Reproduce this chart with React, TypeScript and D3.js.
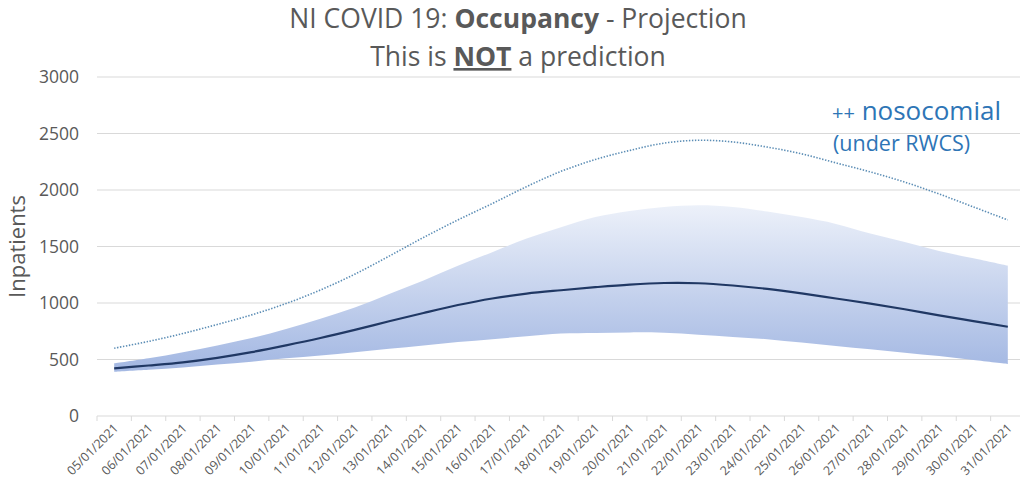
import React from "react";
import * as d3 from "d3";

const dates = [
  "05/01/2021", "06/01/2021", "07/01/2021", "08/01/2021", "09/01/2021",
  "10/01/2021", "11/01/2021", "12/01/2021", "13/01/2021", "14/01/2021",
  "15/01/2021", "16/01/2021", "17/01/2021", "18/01/2021", "19/01/2021",
  "20/01/2021", "21/01/2021", "22/01/2021", "23/01/2021", "24/01/2021",
  "25/01/2021", "26/01/2021", "27/01/2021", "28/01/2021", "29/01/2021",
  "30/01/2021", "31/01/2021",
];

// central projection
const median = [
  422, 447, 475, 515, 565, 625, 690, 762, 838, 912, 982, 1040, 1083, 1113,
  1140, 1163, 1177, 1175, 1155, 1125, 1085, 1040, 995, 945, 890, 840, 790,
];
// upper / lower edge of the shaded range
const upper = [
  465, 510, 565, 625, 690, 770, 860, 960, 1080, 1200, 1330, 1450, 1570, 1670,
  1760, 1815, 1850, 1865, 1850, 1810, 1760, 1700, 1615, 1540, 1460, 1395, 1330,
];
const lower = [
  392, 410, 430, 455, 480, 510, 535, 565, 595, 625, 655, 680, 705, 730, 735,
  740, 737, 720, 700, 680, 650, 620, 590, 560, 530, 495, 460,
];
// ++ nosocomial (under RWCS)
const nosocomial = [
  600, 660, 730, 810, 895, 995, 1115, 1255, 1415, 1580, 1735, 1880, 2030,
  2165, 2270, 2350, 2415, 2440, 2425, 2380, 2320, 2240, 2160, 2070, 1965,
  1850, 1735,
];
const yTicks = [0, 500, 1000, 1500, 2000, 2500, 3000];

const W = 1020;
const H = 483;
const m = { left: 97, right: -5, top: 77, bottom: 67 };
const grey = "#595959";
const font = "'Open Sans', 'Noto Sans', sans-serif";

const App = () => {
  const x = d3
    .scaleBand()
    .domain(dates)
    .range([m.left, W - m.right]);
  const y = d3
    .scaleLinear()
    .domain([0, 3000])
    .range([H - m.bottom, m.top]);
  const cx = (i) => x(dates[i]) + x.bandwidth() / 2;

  const line = d3
    .line()
    .x((d, i) => cx(i))
    .y((d) => y(d))
    .curve(d3.curveCatmullRom.alpha(0.5));

  const area = d3
    .area()
    .x((d, i) => cx(i))
    .y0((d, i) => y(lower[i]))
    .y1((d) => y(d))
    .curve(d3.curveCatmullRom.alpha(0.5));

  const boundaries = dates.map((d) => x(d)).concat([x.range()[1]]);

  return (
    <svg
      width={W}
      height={H}
      style={{ position: "absolute", left: 0, top: 0, background: "#fff" }}
      fontFamily={font}
    >
      <defs>
        <linearGradient
          id="band"
          gradientUnits="userSpaceOnUse"
          x1="0"
          x2="0"
          y1={y(1900)}
          y2={y(450)}
        >
          <stop offset="0" stopColor="#eef2fa" />
          <stop offset="1" stopColor="#a5b9e3" />
        </linearGradient>
      </defs>

      {/* title */}
      <text x={518} y={28} textAnchor="middle" fontSize={26.5} fill={grey}>
        NI COVID 19: <tspan fontWeight="bold">Occupancy</tspan> - Projection
      </text>
      <text x={518} y={66} textAnchor="middle" fontSize={26.5} fill={grey}>
        This is{" "}
        <tspan fontWeight="bold" textDecoration="underline">
          NOT
        </tspan>{" "}
        a prediction
      </text>

      {/* grid */}
      {yTicks.map((t) => (
        <g key={t}>
          <line
            x1={m.left}
            x2={W}
            y1={y(t)}
            y2={y(t)}
            stroke="#d9d9d9"
            strokeWidth={1}
          />
          <text
            x={79}
            y={y(t)}
            dy="0.35em"
            textAnchor="end"
            fontSize={17.5}
            fill={grey}
          >
            {t}
          </text>
        </g>
      ))}
      <text
        transform={`translate(25 ${y(1500)}) rotate(-90)`}
        textAnchor="middle"
        fontSize={22}
        fill={grey}
      >
        Inpatients
      </text>

      {/* x axis */}
      {boundaries.map((b, i) => (
        <line
          key={i}
          x1={b}
          x2={b}
          y1={y(0)}
          y2={y(0) + 5}
          stroke="#d9d9d9"
        />
      ))}
      {dates.map((d, i) => (
        <text
          key={d}
          transform={`translate(${cx(i) + 5} ${y(0) + 13}) rotate(-45)`}
          textAnchor="end"
          fontSize={12.5}
          fill={grey}
        >
          {d}
        </text>
      ))}

      {/* range */}
      <path d={area(upper)} fill="url(#band)" />
      <path
        d={line(median)}
        fill="none"
        stroke="#203864"
        strokeWidth={2.2}
      />
      <path
        d={line(nosocomial)}
        fill="none"
        stroke="#5b8db5"
        strokeWidth={1.6}
        strokeDasharray="1.4 1.6"
      />

      {/* annotation */}
      <text x={832} y={120} fontSize={26} fill="#2e75b6">
        <tspan fontSize={20}>++</tspan> nosocomial
      </text>
      <text x={833} y={151} fontSize={21.5} fill="#2e75b6">
        (under RWCS)
      </text>
    </svg>
  );
};

export default App;
